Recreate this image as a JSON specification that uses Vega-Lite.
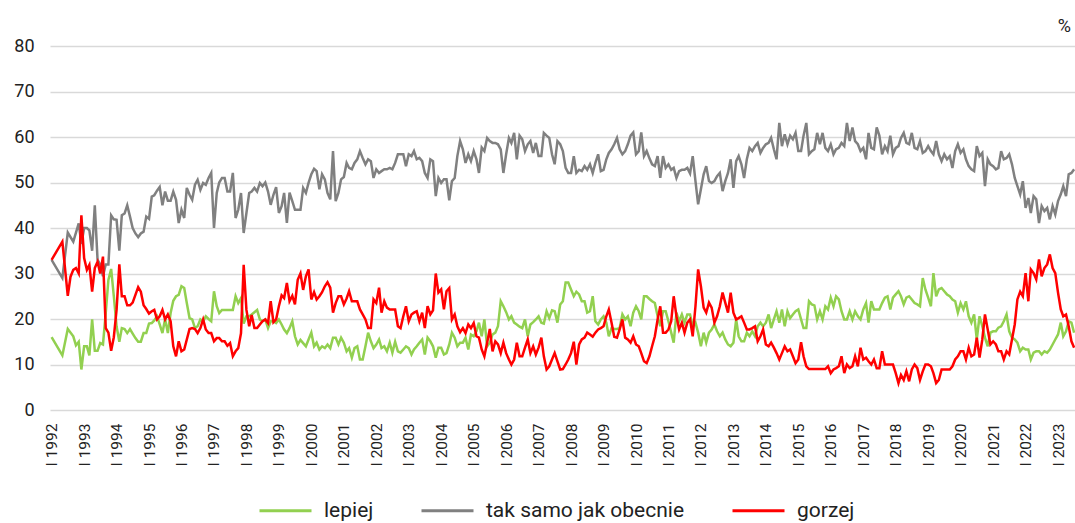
{
"$schema":"https://vega.github.io/schema/vega-lite/v6.json",
"width":1025,"height":364,
"autosize":{"type":"none"},
"padding":{"left":50,"top":46,"right":0,"bottom":113},
"background":"white",
"title":{"text":"%","anchor":"end","frame":"group","fontSize":18,"fontWeight":"normal","font":"Roboto","color":"#222","offset":1,"dx":-4},
"data":{"format":{"parse":{"d":"utc:'%Y-%m'"}},"values":[
{"d":"1992-01","l":16,"t":33,"g":33},
{"d":"1992-05","l":12,"t":29,"g":37},
{"d":"1992-07","l":17.8,"t":39,"g":25.1},
{"d":"1992-08","g":29.3},
{"d":"1992-09","l":16.2,"t":37,"g":30.8},
{"d":"1992-10","l":14.2,"g":31.2},
{"d":"1992-11","l":15,"t":41,"g":30},
{"d":"1992-12","l":8.9,"t":36.5,"g":42.8},
{"d":"1993-01","l":14,"t":40,"g":33.4},
{"d":"1993-02","l":14,"t":40,"g":30.8},
{"d":"1993-03","l":12,"t":39.5,"g":31.9},
{"d":"1993-04","l":19.9,"t":35,"g":26},
{"d":"1993-05","l":13,"t":45,"g":31.2},
{"d":"1993-06","l":13,"t":33,"g":32.6},
{"d":"1993-07","l":14.7,"t":32,"g":30},
{"d":"1993-08","l":14.4,"t":29.4,"g":33.7},
{"d":"1993-09","l":21.3,"t":32,"g":18},
{"d":"1993-10","l":28.6,"t":32,"g":17},
{"d":"1993-11","l":31,"t":42.8,"g":13},
{"d":"1993-12","l":25,"t":41.9,"g":16},
{"d":"1994-01","l":18.4,"t":41.8,"g":22},
{"d":"1994-02","l":15,"t":35,"g":32},
{"d":"1994-03","l":18,"t":42.8,"g":25},
{"d":"1994-04","l":17.8,"t":43.2,"g":25},
{"d":"1994-05","l":16.9,"t":45,"g":23},
{"d":"1994-06","l":17.8,"t":42.5,"g":23},
{"d":"1994-07","l":16.8,"t":40,"g":23.6},
{"d":"1994-08","l":15.8,"t":38.8,"g":25.3},
{"d":"1994-09","l":15,"t":38,"g":27},
{"d":"1994-10","l":15,"t":38.8,"g":26},
{"d":"1994-11","l":16.9,"t":39.2,"g":23},
{"d":"1994-12","l":16.9,"t":42.5,"g":22.2},
{"d":"1995-01","l":19,"t":42,"g":21.2},
{"d":"1995-02","l":19.1,"t":46.9,"g":21.7},
{"d":"1995-03","l":19.7,"t":47.2,"g":22},
{"d":"1995-04","l":20.6,"t":48.2,"g":19.9},
{"d":"1995-05","l":18.8,"t":49,"g":20.6},
{"d":"1995-06","l":16.9,"t":45,"g":22},
{"d":"1995-07","l":20,"t":48,"g":19.9},
{"d":"1995-08","l":16.9,"t":46,"g":21},
{"d":"1995-09","l":21.3,"t":46,"g":19.5},
{"d":"1995-10","l":24,"t":48,"g":14},
{"d":"1995-11","l":25,"t":46.2,"g":11.8},
{"d":"1995-12","l":25.3,"t":41.1,"g":15.1},
{"d":"1996-01","l":27.2,"t":44,"g":12.9},
{"d":"1996-02","l":26.8,"t":42.2,"g":13.3},
{"d":"1996-03","l":23.5,"t":48.8},
{"d":"1996-04","l":20.2,"t":47.3,"g":17.8},
{"d":"1996-05","l":19.9,"t":46.2,"g":18},
{"d":"1996-06","l":18,"t":49.5,"g":17.8},
{"d":"1996-07","l":18.4,"t":50.6,"g":16.9},
{"d":"1996-08","l":19.9,"t":48.4,"g":18},
{"d":"1996-09","l":19.5,"t":49.9,"g":19.9},
{"d":"1996-10","l":20.6,"t":49.5,"g":17.7},
{"d":"1996-11","l":20,"t":51,"g":16.9},
{"d":"1996-12","l":19.5,"t":52.1,"g":16.9},
{"d":"1997-01","l":26.1,"t":40,"g":15.1},
{"d":"1997-02","l":22.8,"t":47.7,"g":15.8},
{"d":"1997-03","l":21.3,"t":50,"g":15.8},
{"d":"1997-04","l":22,"t":51,"g":15.1},
{"d":"1997-05","l":22,"t":51,"g":15.1},
{"d":"1997-06","l":22,"t":48,"g":14.1},
{"d":"1997-07","l":22,"t":48,"g":14.7},
{"d":"1997-08","l":22,"t":52.1,"g":11.8},
{"d":"1997-09","l":25,"t":42.2,"g":12.9},
{"d":"1997-10","l":23.5,"t":44,"g":13.6},
{"d":"1997-11","l":24.6,"t":47.7,"g":16.9},
{"d":"1997-12","l":19,"t":38.9,"g":31.9},
{"d":"1998-01","l":20.6,"t":43.3,"g":22},
{"d":"1998-02","l":20.6,"t":47.7,"g":18.4},
{"d":"1998-03","l":21,"t":48,"g":20.9},
{"d":"1998-04","l":21.5,"t":48.8,"g":18},
{"d":"1998-05","l":22,"t":48,"g":18},
{"d":"1998-06","l":19.9,"t":49.9,"g":18.8},
{"d":"1998-07","l":19.5,"t":49.2,"g":19.5},
{"d":"1998-08","l":19.9,"t":50,"g":19.9},
{"d":"1998-09","l":18,"t":48,"g":19.1},
{"d":"1998-10","l":19.5,"t":45.1,"g":23.9},
{"d":"1998-11","l":19.5,"t":47.3,"g":19.3},
{"d":"1998-12","l":19.1,"t":49,"g":19.9},
{"d":"1999-01","l":19.9,"t":43.3,"g":22.8},
{"d":"1999-02","l":18.8,"t":44.8,"g":25.2},
{"d":"1999-03","l":17.7,"t":47.7,"g":24.6},
{"d":"1999-04","l":16.9,"t":41.1,"g":27.9},
{"d":"1999-05","l":18,"t":47.8,"g":23.9},
{"d":"1999-06","l":19.5,"t":45.9,"g":25.1},
{"d":"1999-07","l":16.2,"t":44,"g":23.2},
{"d":"1999-08","l":14.4,"t":44,"g":28.6},
{"d":"1999-09","l":15.4,"t":44,"g":30},
{"d":"1999-10","l":14.7,"t":48.8,"g":26.4},
{"d":"1999-11","l":14,"t":47.7,"g":29.4},
{"d":"1999-12","l":15.5,"t":49.9,"g":30.9},
{"d":"2000-01","l":17,"t":51.8,"g":24.3},
{"d":"2000-02","l":14,"t":53,"g":25.9},
{"d":"2000-03","l":14.8,"t":52.5,"g":24.3},
{"d":"2000-04","l":13.3,"t":48.5,"g":25},
{"d":"2000-05","l":14,"t":51.8,"g":25.9},
{"d":"2000-06","l":13.6,"t":50.7,"g":27.2},
{"d":"2000-07","l":14.4,"t":47.7,"g":28.1},
{"d":"2000-08","l":13.6,"t":46.3,"g":26.9},
{"d":"2000-09","l":15.9,"t":56.9,"g":21.4},
{"d":"2000-10","l":15.9,"t":45.9,"g":23.5},
{"d":"2000-11","l":14.4,"t":47.7,"g":25},
{"d":"2000-12","l":15.9,"t":50.7,"g":25},
{"d":"2001-01","l":14.8,"t":51.2,"g":23.2},
{"d":"2001-02","l":12.9,"t":54.3,"g":24.5},
{"d":"2001-03","l":13.6,"t":53.2,"g":26.1},
{"d":"2001-04","l":11.5,"t":52.9,"g":23.9},
{"d":"2001-05","l":13.6,"t":54.3,"g":23.9},
{"d":"2001-06","l":14,"t":55.1,"g":23.9},
{"d":"2001-07","l":11.1,"t":56.9,"g":22.1},
{"d":"2001-08","l":11.1,"t":55.4,"g":21},
{"d":"2001-09","l":14,"t":54,"g":19.9},
{"d":"2001-10","l":17,"t":55.1,"g":18},
{"d":"2001-11","l":15.1,"t":54.7,"g":18},
{"d":"2001-12","l":13.6,"t":51,"g":24.3},
{"d":"2002-01","l":14.4,"t":52.9,"g":23.5},
{"d":"2002-02","l":15.5,"t":52.1,"g":26.9},
{"d":"2002-03","l":13.6,"t":52.5,"g":21.4},
{"d":"2002-04","l":14,"t":52.9,"g":23.9},
{"d":"2002-05","l":12.9,"t":52.9,"g":22.5},
{"d":"2002-06","l":14.8,"t":53.2,"g":22.1},
{"d":"2002-07","l":12.6,"t":52.9,"g":22.1},
{"d":"2002-08","l":15,"t":54.3,"g":22.1},
{"d":"2002-09","l":12.9,"t":56.2,"g":18.4},
{"d":"2002-10","l":12.6,"t":56.2,"g":18},
{"d":"2002-11","l":13.3,"t":56.2,"g":20.6},
{"d":"2002-12","l":14,"t":53.6,"g":22.8},
{"d":"2003-01","l":13.6,"t":56.2,"g":19.5},
{"d":"2003-02","l":12.2,"t":55.8,"g":21},
{"d":"2003-03","l":13.3,"t":56.9,"g":21.4},
{"d":"2003-04","l":14,"t":55.1,"g":21.7},
{"d":"2003-05","l":14.8,"t":55.4,"g":19.5},
{"d":"2003-06","l":15.5,"t":54.7,"g":21.4},
{"d":"2003-07","l":12.2,"t":52.1,"g":18},
{"d":"2003-08","l":15.9,"t":51,"g":22.8},
{"d":"2003-09","l":15.1,"t":55.1,"g":21},
{"d":"2003-10","l":14,"t":54.7,"g":21.9},
{"d":"2003-11","l":11.5,"t":47,"g":30},
{"d":"2003-12","l":13.7,"t":51,"g":25.8},
{"d":"2004-01","l":13.7,"t":49.9,"g":26.5},
{"d":"2004-02","l":12.2,"t":50.7,"g":22.1},
{"d":"2004-03","l":12.5,"t":50.7,"g":26.1},
{"d":"2004-04","l":14.4,"t":46.1,"g":26.8},
{"d":"2004-05","l":17,"t":50.3,"g":19.9},
{"d":"2004-06","l":15.9,"t":51,"g":21},
{"d":"2004-07","l":14,"t":55.8,"g":18.4},
{"d":"2004-08","l":14.8,"t":59.1,"g":17.1},
{"d":"2004-09","l":14.8,"t":57.3,"g":18},
{"d":"2004-10","l":15.9,"t":54.3,"g":16.9},
{"d":"2004-11","l":13.3,"t":56.2,"g":18.8},
{"d":"2004-12","l":16.6,"t":54.7,"g":18},
{"d":"2005-01","l":16.2,"t":56.9,"g":19.1},
{"d":"2005-02","l":17.3,"t":55.1,"g":16.2},
{"d":"2005-03","l":19.2,"t":52.1,"g":15.9},
{"d":"2005-04","l":16.2,"t":57.7,"g":13.3},
{"d":"2005-05","l":19.9,"t":56.9,"g":11.8},
{"d":"2005-06","l":14,"t":59.8,"g":14.8},
{"d":"2005-07","l":14.8,"t":59.1,"g":17.8},
{"d":"2005-08","l":16.6,"t":58.7,"g":12.9},
{"d":"2005-09","l":17,"t":58.7,"g":15.1},
{"d":"2005-10","l":18.4,"t":58.4,"g":14.4},
{"d":"2005-11","l":23.9,"t":57.3,"g":12.5},
{"d":"2005-12","l":22.8,"t":52.1,"g":14.8},
{"d":"2006-01","l":21.5,"t":56.2,"g":12.5},
{"d":"2006-02","l":19.9,"t":59.8,"g":11.1},
{"d":"2006-03","l":20.6,"t":58.7,"g":10},
{"d":"2006-04","l":19.2,"t":60.9,"g":11.1},
{"d":"2006-05","l":18.8,"t":55.1,"g":14.8},
{"d":"2006-06","l":18.3,"t":60.3,"g":11.8},
{"d":"2006-07","l":18,"t":59.5,"g":11.8},
{"d":"2006-08","l":19.9,"t":56.9,"g":13.7},
{"d":"2006-09","l":16.2,"t":58.4,"g":15.5},
{"d":"2006-10","l":18.8,"t":59.1,"g":12.5},
{"d":"2006-11","l":19.3,"t":56.5,"g":14},
{"d":"2006-12","l":19.9,"t":58.7,"g":12.2},
{"d":"2007-01","l":20.6,"t":55.8,"g":13.7},
{"d":"2007-02","l":19.2,"t":55.8,"g":15.9},
{"d":"2007-03","l":19,"t":60.9,"g":11.8},
{"d":"2007-04","l":21.7,"t":60.3,"g":8.9},
{"d":"2007-05","l":20.2,"t":59.8,"g":9.6},
{"d":"2007-06","l":21.9,"t":56.2,"g":11.1},
{"d":"2007-07","l":21.7,"t":54,"g":12.5},
{"d":"2007-08","l":19.2,"t":59.1,"g":10.7},
{"d":"2007-09","l":23.2,"t":58.4,"g":8.9},
{"d":"2007-10","l":23.9,"t":56.9,"g":9},
{"d":"2007-11","l":28,"t":53.2,"g":10},
{"d":"2007-12","l":28,"t":52.1,"g":11.1},
{"d":"2008-01","l":26.5,"t":52.1,"g":12.5},
{"d":"2008-02","l":25,"t":55.8,"g":15},
{"d":"2008-03","l":26,"t":52.1,"g":10},
{"d":"2008-04","l":25.4,"t":52.8,"g":14.4},
{"d":"2008-05","l":23.9,"t":52.5,"g":15.5},
{"d":"2008-06","l":23.9,"t":53.6,"g":15.9},
{"d":"2008-07","l":21.4,"t":52.8,"g":17},
{"d":"2008-08","l":21.7,"t":54,"g":16.6},
{"d":"2008-09","l":25,"t":52.1,"g":16.1},
{"d":"2008-10","l":19.5,"t":54.3,"g":17},
{"d":"2008-11","l":18.8,"t":56.2,"g":17.7},
{"d":"2008-12","l":19.9,"t":52.5,"g":18},
{"d":"2009-01","l":20.6,"t":52.8,"g":18.4},
{"d":"2009-02","l":19.2,"t":55.1,"g":20.6},
{"d":"2009-03","l":16.2,"t":56.5,"g":22.1},
{"d":"2009-04","l":18,"t":57.3,"g":19.2},
{"d":"2009-05","l":17.8,"t":58.4,"g":16.1},
{"d":"2009-06","l":17.8,"t":59.8,"g":15.9},
{"d":"2009-07","l":18,"t":57.3,"g":17.7},
{"d":"2009-08","l":21,"t":56.2,"g":19.9},
{"d":"2009-09","l":19.9,"t":56.9,"g":15.9},
{"d":"2009-10","l":20.6,"t":58.4,"g":15.5},
{"d":"2009-11","l":18.4,"t":60.3,"g":14.8},
{"d":"2009-12","l":21.4,"t":61,"g":16.2},
{"d":"2010-01","l":22.8,"t":56.2,"g":14.4},
{"d":"2010-02","l":21.7,"t":56.9,"g":14},
{"d":"2010-03","l":19.9,"t":61,"g":12.5},
{"d":"2010-04","l":25,"t":55.8,"g":10.7},
{"d":"2010-05","l":25,"t":56.9,"g":10.3},
{"d":"2010-06","l":24.4,"t":55.3,"g":11.8},
{"d":"2010-07","l":23.9,"t":54,"g":14},
{"d":"2010-08","l":23.5,"t":53.6,"g":16.2},
{"d":"2010-09","l":20.6,"t":55.8,"g":19.9},
{"d":"2010-10","l":18.4,"t":51,"g":22.8},
{"d":"2010-11","l":21.7,"t":55.8,"g":17},
{"d":"2010-12","l":21.7,"t":53.2,"g":17},
{"d":"2011-01","l":19.5,"t":54,"g":17.7},
{"d":"2011-02","l":17,"t":52.8,"g":19.5},
{"d":"2011-03","l":14.8,"t":53.2,"g":25},
{"d":"2011-04","l":21.4,"t":51,"g":20.6},
{"d":"2011-05","l":19.5,"t":52.5,"g":17.7},
{"d":"2011-06","l":21,"t":52.8,"g":19.2},
{"d":"2011-07","l":19.2,"t":52.8,"g":17},
{"d":"2011-08","l":21,"t":53.2,"g":19.2},
{"d":"2011-09","l":21,"t":52,"g":19.9},
{"d":"2011-10","l":18.4,"t":55.8,"g":16.2},
{"d":"2011-11","l":19.2,"t":50.3,"g":22.8},
{"d":"2011-12","l":17,"t":45.2,"g":30.9},
{"d":"2012-01","l":14,"t":48.5,"g":27.2},
{"d":"2012-02","l":17,"t":51.8,"g":22.5},
{"d":"2012-03","l":14.8,"t":53.6,"g":21.4},
{"d":"2012-04","l":17,"t":50.3,"g":23.6},
{"d":"2012-05","l":17.7,"t":49.9,"g":22.5},
{"d":"2012-06","l":18.8,"t":50.3,"g":19.2},
{"d":"2012-07","l":17.3,"t":51.4,"g":20.6},
{"d":"2012-08","l":16.2,"t":52.1,"g":22.8},
{"d":"2012-09","l":17,"t":48.1,"g":25.8},
{"d":"2012-10","l":15.5,"t":50.3,"g":23.6},
{"d":"2012-11","l":14.4,"t":52.1,"g":21.4},
{"d":"2012-12","l":14,"t":55.1,"g":25.8},
{"d":"2013-01","l":14.8,"t":48.8,"g":21.4},
{"d":"2013-02","l":19.9,"t":54.7,"g":19.9},
{"d":"2013-03","l":16.2,"t":55.8,"g":20.2},
{"d":"2013-04","l":15.1,"t":54,"g":20.6},
{"d":"2013-05","l":15.1,"t":51,"g":19.2},
{"d":"2013-06","l":17,"t":55.1,"g":17.7},
{"d":"2013-07","l":16.2,"t":57.6,"g":17.7},
{"d":"2013-08","l":17.3,"t":56.9,"g":18},
{"d":"2013-09","l":16.2,"t":58,"g":18.4},
{"d":"2013-10","l":18.4,"t":58.7,"g":15.1},
{"d":"2013-11","l":19.2,"t":56.5,"g":16.2},
{"d":"2013-12","l":18.4,"t":57.6,"g":17.7},
{"d":"2014-01","l":19.2,"t":58.4,"g":14.4},
{"d":"2014-02","l":21,"t":58.7,"g":14},
{"d":"2014-03","l":18,"t":59.8,"g":14.8},
{"d":"2014-04","l":19.9,"t":57.3,"g":13.7},
{"d":"2014-05","l":21.7,"t":55.1,"g":12.5},
{"d":"2014-06","l":19.2,"t":63.1,"g":11.1},
{"d":"2014-07","l":22.1,"t":58,"g":12.5},
{"d":"2014-08","l":18.4,"t":60.6,"g":14},
{"d":"2014-09","l":21.7,"t":58.4,"g":12.9},
{"d":"2014-10","l":20.2,"t":60.3,"g":13.3},
{"d":"2014-11","l":21,"t":59.5,"g":11.8},
{"d":"2014-12","l":21.7,"t":60.9,"g":10.3},
{"d":"2015-01","l":22.1,"t":56.9,"g":11.1},
{"d":"2015-02","l":19.9,"t":56.9,"g":14.9},
{"d":"2015-03","l":18,"t":60.3,"g":11.8},
{"d":"2015-04","l":18,"t":63.1,"g":9.6},
{"d":"2015-05","l":23.9,"t":56.2,"g":9},
{"d":"2015-06","l":23.2,"t":56.9,"g":9},
{"d":"2015-07","l":23,"t":57.3,"g":9},
{"d":"2015-08","l":19.9,"t":60.9,"g":9},
{"d":"2015-09","l":21.7,"t":58.4,"g":9},
{"d":"2015-10","l":19.9,"t":60.9,"g":9},
{"d":"2015-11","l":22.8,"t":57.6,"g":9},
{"d":"2015-12","l":22.1,"t":56.9,"g":9.6},
{"d":"2016-01","l":24.7,"t":58.4,"g":8.1},
{"d":"2016-02","l":22.8,"t":56.2,"g":8.9},
{"d":"2016-03","l":25,"t":57.3,"g":9.2},
{"d":"2016-04","l":24.3,"t":57.6,"g":9.6},
{"d":"2016-05","l":21.7,"t":58.7,"g":11.8},
{"d":"2016-06","l":19.9,"t":58,"g":8.1},
{"d":"2016-07","l":19.9,"t":63.1,"g":10},
{"d":"2016-08","l":21.7,"t":59.1,"g":9.2},
{"d":"2016-09","l":19.9,"t":62.1,"g":9.6},
{"d":"2016-10","l":21.7,"t":59.1,"g":11.8},
{"d":"2016-11","l":20.6,"t":58.4,"g":9.6},
{"d":"2016-12","l":19.9,"t":56.9,"g":13.7},
{"d":"2017-01","l":22.1,"t":57.6,"g":11.1},
{"d":"2017-02","l":23.5,"t":55.1,"g":11.5},
{"d":"2017-03","l":19.2,"t":60.9,"g":10.7},
{"d":"2017-04","l":23.9,"t":57.6,"g":10},
{"d":"2017-05","l":22.1,"t":57.3,"g":11.1},
{"d":"2017-06","l":22.1,"t":62.1,"g":9.2},
{"d":"2017-07","l":22.1,"t":60.3,"g":9.2},
{"d":"2017-08","l":23.5,"t":56.2,"g":12.9},
{"d":"2017-09","l":24.7,"t":58,"g":10},
{"d":"2017-10","l":25,"t":56.9,"g":10},
{"d":"2017-11","l":22.1,"t":60.3,"g":10},
{"d":"2017-12","l":24.7,"t":56.2,"g":10},
{"d":"2018-01","l":25.4,"t":57.6,"g":8.1},
{"d":"2018-02","l":26.1,"t":58,"g":5.9},
{"d":"2018-03","l":25,"t":59.8,"g":7.7},
{"d":"2018-04","l":23.2,"t":60.9,"g":6.6},
{"d":"2018-05","l":24.7,"t":58.7,"g":8.5},
{"d":"2018-06","l":25,"t":58.4,"g":6.3},
{"d":"2018-07","l":24.3,"t":60.9,"g":8.9},
{"d":"2018-08","l":23.5,"t":57.6,"g":10},
{"d":"2018-09","l":23.2,"t":57.3,"g":9.2},
{"d":"2018-10","l":22.8,"t":59.1,"g":6.6},
{"d":"2018-11","l":29,"t":56.5,"g":8.5},
{"d":"2018-12","l":26.5,"t":56.9,"g":10},
{"d":"2019-01","l":24.7,"t":58,"g":10},
{"d":"2019-02","l":22.8,"t":56.9,"g":9.6},
{"d":"2019-03","l":30.1,"t":56.2,"g":8.1},
{"d":"2019-04","l":25,"t":59.1,"g":5.9},
{"d":"2019-05","l":26.5,"t":56.2,"g":6.6},
{"d":"2019-06","l":26.8,"t":54.7,"g":8.9},
{"d":"2019-07","l":26.1,"t":56.2,"g":8.9},
{"d":"2019-08","l":25.4,"t":55.1,"g":8.9},
{"d":"2019-09","l":25,"t":55.8,"g":8.9},
{"d":"2019-10","l":24.3,"t":53.2,"g":9.6},
{"d":"2019-11","l":23.9,"t":56.9,"g":11.1},
{"d":"2019-12","l":21.4,"t":58.4,"g":11.8},
{"d":"2020-01","l":23.5,"t":56.5,"g":12.9},
{"d":"2020-02","l":22.1,"t":57.3,"g":12.9},
{"d":"2020-03","l":23.9,"t":55.1,"g":11.1},
{"d":"2020-04","l":20.6,"t":53.6,"g":13.7},
{"d":"2020-05","l":19.2,"t":52.9,"g":11.8},
{"d":"2020-06","l":21,"t":52.5,"g":12.2},
{"d":"2020-07","l":15.5,"t":58,"g":15.9},
{"d":"2020-08","l":20.6,"t":55.8,"g":11.5},
{"d":"2020-09","l":18.4,"t":56.5,"g":15.5},
{"d":"2020-10","l":15.9,"t":49.2,"g":21},
{"d":"2020-11","l":14,"t":55.1,"g":17.7},
{"d":"2020-12","l":17,"t":54,"g":14.4},
{"d":"2021-01","l":17.3,"t":53.6,"g":15.1},
{"d":"2021-02","l":17.3,"t":52.9,"g":14.4},
{"d":"2021-03","l":18.1,"t":53.2,"g":12.9},
{"d":"2021-04","l":18.4,"t":56.9,"g":12.9},
{"d":"2021-05","l":19.5,"t":55.1,"g":11.1},
{"d":"2021-06","l":21,"t":55.4,"g":12.9},
{"d":"2021-07","l":17.3,"t":56.2,"g":12.2},
{"d":"2021-08","l":15.9,"t":54,"g":15.5},
{"d":"2021-09","l":15.5,"t":51,"g":18.8},
{"d":"2021-10","l":14.8,"t":49.2,"g":24.3},
{"d":"2021-11","l":12.9,"t":47.4,"g":26},
{"d":"2021-12","l":13.7,"t":50.3,"g":25},
{"d":"2022-01","l":13.3,"t":44.4,"g":30.1},
{"d":"2022-02","l":13.3,"t":46.6,"g":23.9},
{"d":"2022-03","l":11.1,"t":43.3,"g":30.9},
{"d":"2022-04","l":12.6,"t":47,"g":30.1},
{"d":"2022-05","l":12.9,"t":46.3,"g":28.7},
{"d":"2022-06","l":12.9,"t":41.1,"g":33.1},
{"d":"2022-07","l":12.2,"t":44.8,"g":29.4},
{"d":"2022-08","l":12.9,"t":43.7,"g":31.2},
{"d":"2022-09","l":12.6,"t":44.4,"g":32},
{"d":"2022-10","l":13.3,"t":41.9,"g":34.2},
{"d":"2022-11","l":14.4,"t":44.8,"g":31.2},
{"d":"2022-12","l":15.5,"t":43,"g":30.1},
{"d":"2023-01","l":16.6,"t":45.9,"g":25.8},
{"d":"2023-02","l":19.2,"t":47.4,"g":22.1},
{"d":"2023-03","l":16.2,"t":49.2,"g":20.6},
{"d":"2023-04","l":17.3,"t":47,"g":21},
{"d":"2023-05","l":19.5,"t":51.8,"g":18.4},
{"d":"2023-06","l":19.2,"t":52.1,"g":15.1},
{"d":"2023-07","l":17,"t":52.9,"g":13.7}
]},
"transform":[{"fold":["l","t","g"],"as":["s","v"]},{"filter":"isValid(datum.v)"}],
"mark":{"type":"line","strokeWidth":2.5},
"encoding":{
"x":{"field":"d","type":"temporal","scale":{"type":"utc","domain":[{"year":1991,"month":12,"date":14,"utc":true},{"year":2023,"month":7,"date":11,"utc":true}]},
"axis":{"title":null,"grid":false,"domain":false,"ticks":false,"labelAngle":-90,"labelPadding":13,"labelFontSize":15.5,"labelFont":"Roboto","labelColor":"#222","labelExpr":"'I ' + utcFormat(datum.value, '%Y')","tickCount":{"interval":"year","step":1},"labelOverlap":false,"labelFlush":false,"labelBound":false}},
"y":{"field":"v","type":"quantitative","scale":{"domain":[0,80],"nice":false},
"axis":{"title":null,"values":[0,10,20,30,40,50,60,70,80],"grid":true,"gridColor":"#d9d9d9","gridWidth":1.5,"domain":false,"ticks":false,"labelPadding":16,"labelFontSize":18,"labelFont":"Roboto","labelColor":"#222"}},
"color":{"field":"s","type":"nominal","sort":["l","t","g"],"scale":{"domain":["l","t","g"],"range":["#92D050","#808080","#FF0000"]},
"legend":{"title":null,"orient":"none","legendX":208,"legendY":437,"direction":"horizontal","symbolType":"stroke","symbolSize":2704,"symbolStrokeWidth":3,"labelFontSize":21,"labelFont":"Roboto","labelColor":"#222","labelOffset":11,"columnPadding":41,"padding":0,"labelLimit":400,"labelExpr":"datum.label == 'l' ? 'lepiej' : datum.label == 't' ? 'tak samo jak obecnie' : 'gorzej'"}}
},
"config":{"view":{"stroke":null},"font":"Roboto"}
}
